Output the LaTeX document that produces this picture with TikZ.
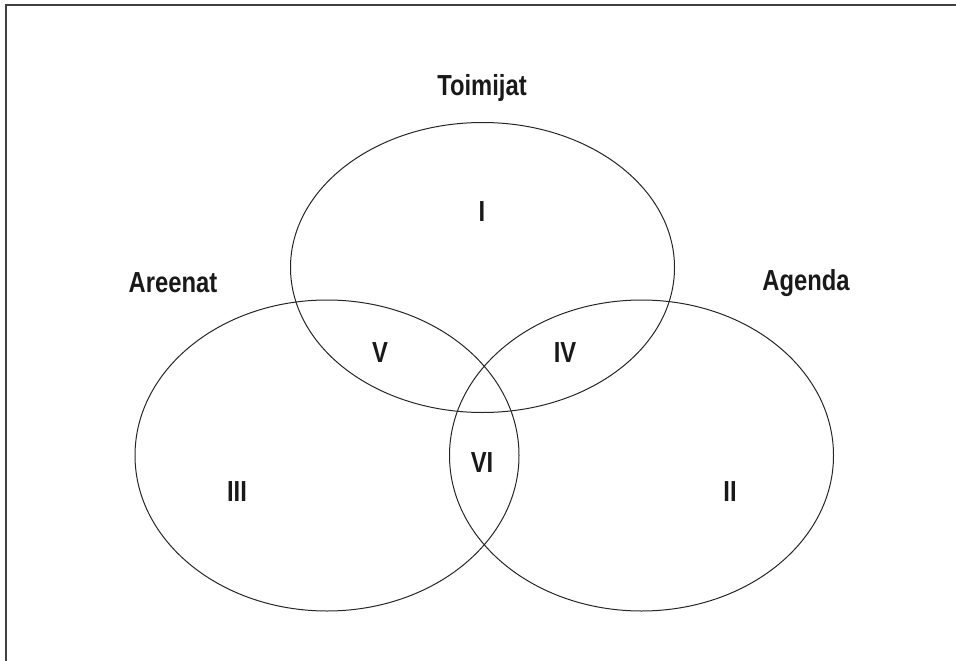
\documentclass[tikz,border=0pt]{standalone}
\usepackage{fontspec}
\setmainfont{Liberation Sans}[FakeStretch=0.82]
\usetikzlibrary{shapes.geometric}
\tikzset{
  set/.style={draw=black!85, line width=1pt, ellipse, inner sep=0pt, minimum width=384pt, minimum height=#1},
  lbl/.style={font=\fontsize{29}{32}\selectfont\bfseries, text=black!90, inner sep=0pt},
  frameline/.style={draw=black!75, line width=1.6pt}
}
\begin{document}
\begin{tikzpicture}[x=1pt,y=-1pt]
\useasboundingbox (0,0) rectangle (956,661);
% frame along top and left edges
\coordinate (tr) at (956,5);
\coordinate (tl) at (6,5);
\coordinate (bl) at (6,661);
\draw[frameline] (tr) -- (tl) -- (bl);
% the three sets
\node[set=290pt] (top) at (482.5,267.5) {};
\node[set=311pt] (left) at (327,455.5) {};
\node[set=311pt] (right) at (641.5,455.5) {};
% set names
\node[lbl] (toimijat) at (482,88) {Toimijat};
\node[lbl] (areenat) at (173,283) {Areenat};
\node[lbl] (agenda) at (806,283) {Agenda};
% region numbers
\node[lbl] (r1) at (482,212) {I};
\node[lbl] (r5) at (380,353) {V};
\node[lbl] (r4) at (565,353) {IV};
\node[lbl] (r6) at (482,463) {VI};
\node[lbl] (r3) at (237,492) {III};
\node[lbl] (r2) at (730,492) {II};
\end{tikzpicture}
\end{document}
